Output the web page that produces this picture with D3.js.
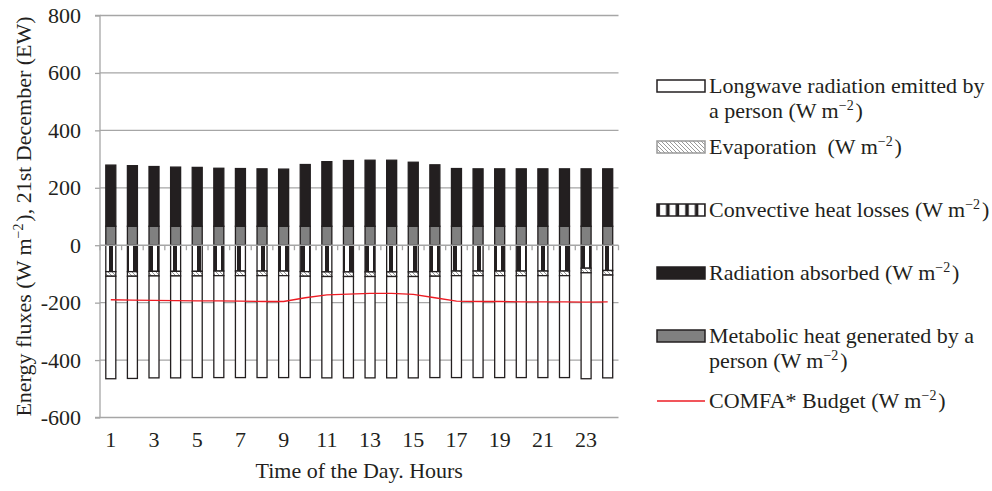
<!DOCTYPE html>
<html><head><meta charset="utf-8">
<script src="https://cdn.jsdelivr.net/npm/d3@7"></script>
<style>
body{margin:0;background:#fff;}
svg, svg text, svg tspan{font-family:"Liberation Serif","Times New Roman",serif !important;}
svg text{fill:#231f20;}
</style></head>
<body>
<svg id="c" width="992" height="491"></svg>
<script>
const hours = d3.range(1, 25);
const metabolic   = [66,66,66,66,66,66,66,66,66,66,66,66,66,66,66,66,66,66,66,66,66,66,66,66];
const radiation   = [213,211,208,206,205,202,201,200,199,215,225,229,230,230,223,214,201,200,200,200,200,200,200,200];
const convective  = [-92,-92,-91,-91,-91,-90,-90,-90,-90,-92,-93,-93,-93,-93,-93,-92,-90,-90,-90,-90,-90,-90,-80,-88];
const evaporation = [-16,-16,-16,-16,-16,-16,-16,-16,-16,-16,-16,-16,-16,-16,-16,-16,-16,-16,-16,-16,-16,-16,-16,-16];
const longwave    = [-357,-356,-355,-355,-354,-355,-355,-355,-355,-353,-353,-353,-353,-353,-353,-353,-355,-355,-355,-355,-355,-355,-369,-358];
const budget      = [-190,-191,-192,-193,-194,-194,-195,-196,-196,-183,-173,-170,-168,-168,-171,-183,-195,-196,-196,-197,-197,-197,-198,-197];
const yTicks = [-600,-400,-200,0,200,400,600,800];
const xTickLabels = [1,3,5,7,9,11,13,15,17,19,21,23];

const FONT = "'Liberation Serif','Times New Roman',serif";
const FS = 22;
const svg = d3.select("#c").style("font-family", FONT);
const L = 100, R = 618.5, T = 15.5, B = 417.5;
const y = d3.scaleLinear().domain([-600, 800]).range([B, T]);
const x = d3.scaleBand().domain(hours).range([L, R]).paddingInner(0.537).paddingOuter(0.2685);
const step = x.step();
const GRID = "#a6a6a6", DARK = "#231f20";

const defs = svg.append("defs");
const pc = defs.append("pattern").attr("id","conv").attr("patternUnits","userSpaceOnUse").attr("width",8).attr("height",8);
pc.append("rect").attr("width",8).attr("height",8).attr("fill",DARK);
pc.append("rect").attr("x",1).attr("width",4).attr("height",8).attr("fill","#fff");
const pe = defs.append("pattern").attr("id","evap").attr("patternUnits","userSpaceOnUse").attr("width",4).attr("height",4);
pe.append("rect").attr("width",4).attr("height",4).attr("fill","#fff");
pe.append("path").attr("d","M0,0L4,4M-1,3L1,5M3,-1L5,1").attr("stroke","#999").attr("stroke-width",1);

// gridlines
svg.append("g").selectAll("line").data(yTicks.filter(v=>v!==0)).join("line")
  .attr("x1",L).attr("x2",R).attr("y1",d=>y(d)).attr("y2",d=>y(d))
  .attr("stroke",GRID).attr("stroke-width",1.3);

// y axis
const ya = svg.append("g").attr("transform",`translate(${L},0)`)
  .call(d3.axisLeft(y).tickValues(yTicks).tickSize(5).tickPadding(14).tickFormat(d3.format("d")));
ya.attr("font-family", null).attr("font-size", null);
ya.select(".domain").attr("stroke",GRID).attr("stroke-width",1.3).attr("d",`M-5,${T}H0V${B}H-5`);
ya.selectAll(".tick line").attr("stroke",GRID).attr("stroke-width",1.3);
ya.selectAll(".tick text").style("font-family",FONT).style("font-size",FS+"px").attr("fill",DARK).text(d=>d<0?"-"+Math.abs(d):d);

// bars
const segs = [];
hours.forEach((h,i)=>{
  segs.push({h, y0:0, y1:metabolic[i], fill:"#808080"});
  segs.push({h, y0:metabolic[i], y1:metabolic[i]+radiation[i], fill:DARK});
  const c = convective[i], e = c+evaporation[i], l = e+longwave[i];
  segs.push({h, y0:0, y1:c, fill:"url(#conv)"});
  segs.push({h, y0:c, y1:e, fill:"url(#evap)"});
  segs.push({h, y0:e, y1:l, fill:"#fff"});
});
svg.append("g").selectAll("rect").data(segs).join("rect")
  .attr("x",d=>x(d.h)).attr("width",x.bandwidth())
  .attr("y",d=>y(Math.max(d.y0,d.y1))).attr("height",d=>Math.abs(y(d.y0)-y(d.y1)))
  .attr("fill",d=>d.fill).attr("stroke",DARK).attr("stroke-width",1.3);

// zero axis with ticks at category boundaries
const y0 = y(0);
svg.append("line").attr("x1",L).attr("x2",R).attr("y1",y0).attr("y2",y0).attr("stroke",GRID).attr("stroke-width",1.5);
svg.append("g").selectAll("line").data(d3.range(0,25)).join("line")
  .attr("x1",d=>L+d*step).attr("x2",d=>L+d*step).attr("y1",y0).attr("y2",y0+5)
  .attr("stroke",GRID).attr("stroke-width",1.3);

// budget line
svg.append("path").datum(budget)
  .attr("d", d3.line().x((d,i)=>x(hours[i])+x.bandwidth()/2).y(d=>y(d)))
  .attr("fill","none").attr("stroke","#ed1c24").attr("stroke-width",1.3);

// x labels
const xa = svg.append("g").attr("transform",`translate(0,${B})`)
  .call(d3.axisBottom(x).tickValues(xTickLabels).tickSize(0).tickPadding(14));
xa.attr("font-family", null).attr("font-size", null);
xa.select(".domain").remove();
xa.selectAll(".tick text").style("font-family",FONT).style("font-size",FS+"px").attr("fill",DARK);

// axis titles
function supText(sel, parts){
  parts.forEach(p=>{
    if(p.sup){ sel.append("tspan").style("font-size","14px").attr("dy",-8).text(p.t); sel.append("tspan").attr("dy",8).text("\u200a"); }
    else sel.append("tspan").text(p.t);
  });
}
svg.append("text").attr("x",(L+R)/2).attr("y",478).attr("text-anchor","middle")
  .style("font-family",FONT).style("font-size",FS+"px").attr("fill",DARK)
  .text("Time of the Day. Hours");
const yt = svg.append("text").attr("transform",`translate(31,${(T+B)/2}) rotate(-90)`).attr("text-anchor","middle")
  .style("font-family",FONT).style("font-size",FS+"px").attr("fill",DARK);
supText(yt,[{t:"Energy fluxes (W m"},{t:"\u22122",sup:true},{t:"), 21st December (EW)"}]);

// legend
const lx = 657, lw = 48, lh = 12, tx = 709;
const legend = [
  {cy:86, fill:"#fff", stroke:DARK, lines:[[{t:"Longwave radiation emitted by"}],[{t:"a person (W m"},{t:"\u22122",sup:true},{t:")"}]]},
  {cy:147, fill:"url(#evap)", stroke:"#999", lines:[[{t:"Evaporation\u00a0 (W m"},{t:"\u22122",sup:true},{t:")"}]]},
  {cy:210, fill:"url(#convL)", stroke:DARK, lines:[[{t:"Convective heat losses (W m"},{t:"\u22122",sup:true},{t:")"}]]},
  {cy:273, fill:DARK, stroke:DARK, lines:[[{t:"Radiation absorbed (W m"},{t:"\u22122",sup:true},{t:")"}]]},
  {cy:336, fill:"#808080", stroke:DARK, lines:[[{t:"Metabolic heat generated by a"}],[{t:"person (W m"},{t:"\u22122",sup:true},{t:")"}]]},
  {cy:401, line:true, lines:[[{t:"COMFA* Budget (W m"},{t:"\u22122",sup:true},{t:")"}]]}
];
const pl = defs.append("pattern").attr("id","convL").attr("patternUnits","userSpaceOnUse").attr("x",lx).attr("width",9.6).attr("height",8);
pl.append("rect").attr("width",9.6).attr("height",8).attr("fill",DARK);
pl.append("rect").attr("x",3).attr("width",6).attr("height",8).attr("fill","#fff");
const lg = svg.append("g");
legend.forEach(it=>{
  if(it.line){
    lg.append("line").attr("x1",lx).attr("x2",lx+lw).attr("y1",it.cy).attr("y2",it.cy).attr("stroke","#ed1c24").attr("stroke-width",1.3);
  } else {
    lg.append("rect").attr("x",lx).attr("y",it.cy-lh/2).attr("width",lw).attr("height",lh)
      .attr("fill",it.fill).attr("stroke",it.stroke).attr("stroke-width",1.5);
  }
  it.lines.forEach((ln,j)=>{
    const t = lg.append("text").attr("x",tx).attr("y",it.cy+7+j*25)
      .style("font-family",FONT).style("font-size",FS+"px").attr("fill",DARK);
    supText(t, ln);
  });
});
</script>
</body></html>
